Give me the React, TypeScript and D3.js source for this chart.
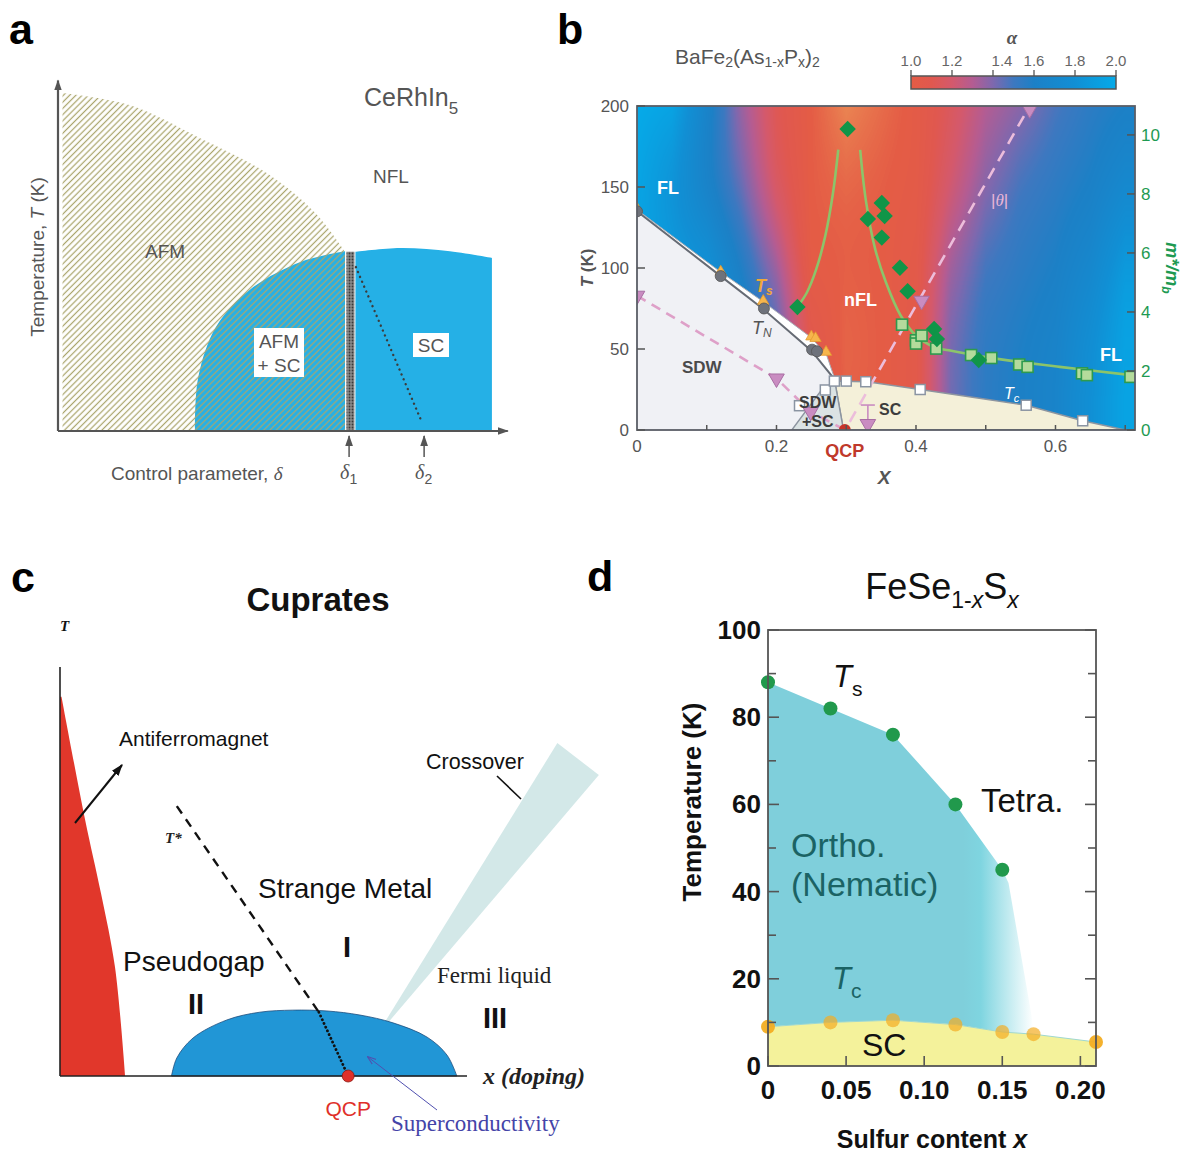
import React, { useMemo } from "react";
import * as d3 from "d3";

const SANS = "'Liberation Sans', Arial, Helvetica, sans-serif";
const SERIF = "'Liberation Serif', 'Times New Roman', serif";

// ================= Panel a : CeRhIn5 (schematic units 0..10) =================
const aAfmTop = [[0.1, 9.55], [1.6, 9.2], [3.1, 8.3], [4.6, 7.3], [5.7, 6.15], [6.35, 5.06]];
const aCoexDome = [[3.03, 0], [3.1, 1.5], [3.5, 2.95], [4.25, 4.0], [5.35, 4.77], [6.35, 5.08]];
const aScTop = [[6.57, 5.06], [7.57, 5.17], [8.67, 5.08], [9.6, 4.89]];
const aCrossover = [[6.59, 4.63], [8.05, 0.25]];
const aFirstOrder = [6.37, 6.57, 5.08];
const aDeltaTicks = [{ sub: "1", x: 6.44 }, { sub: "2", x: 8.1 }];

// ================= Panel b : BaFe2(As1-xPx)2 =================
const bX_MAX = 0.714;
const bAlphaGridX = [0, 0.05, 0.1, 0.15, 0.2, 0.25, 0.3, 0.35, 0.4, 0.45, 0.5, 0.55, 0.6, 0.65, 0.7];
// rows: T = 0, 50, 100, 150, 200
const bAlphaRows = [
  [1.9, 1.9, 1.85, 1.7, 1.5, 1.1, 1.0, 1.0, 1.05, 1.42, 1.55, 1.6, 1.65, 1.8, 1.95],
  [1.9, 1.9, 1.85, 1.7, 1.5, 1.1, 0.97, 1.0, 1.05, 1.42, 1.55, 1.6, 1.65, 1.8, 1.95],
  [1.95, 1.9, 1.85, 1.6, 1.35, 1.0, 1.0, 1.0, 1.05, 1.35, 1.5, 1.55, 1.6, 1.7, 1.9],
  [1.95, 1.8, 1.6, 1.42, 1.15, 1.0, 0.98, 1.0, 1.02, 1.2, 1.38, 1.5, 1.55, 1.6, 1.7],
  [2.0, 1.95, 1.65, 1.35, 1.12, 1.0, 0.9, 0.96, 1.02, 1.15, 1.3, 1.38, 1.48, 1.55, 1.6],
];
const bAlphaStops = [0.9, 1.0, 1.1, 1.2, 1.3, 1.4, 1.5, 1.6, 1.8, 2.0];
const bAlphaColors = ["#ea8452", "#e45c45", "#e0584f", "#d4596c", "#b45c92", "#7e68ae", "#3d78c0", "#1c80c6", "#118fd4", "#05aae8"];
const bAlphaTicks = [1.0, 1.2, 1.4, 1.6, 1.8, 2.0];

const bTN = [[0, 135], [0.12, 95], [0.182, 75], [0.251, 49.6], [0.258, 48.6]];
const bTs = [[0, 136], [0.12, 97], [0.181, 79], [0.25, 57], [0.256, 56], [0.271, 47.5]];
const bTc = [[0.233, 15], [0.27, 24.7], [0.283, 30.2], [0.3, 30.2], [0.328, 29.8], [0.406, 25], [0.558, 15.3], [0.639, 5.7]];
const bSdwLine = [[0, 135], [0.12, 95], [0.18, 75], [0.25, 49], [0.28, 33], [0.284, 29]];
const bTsLine = [[0, 136], [0.12, 97.5], [0.18, 79.5], [0.25, 57], [0.272, 46], [0.284, 31]];
const bSdwFoot = [0.296, 0];
const bScDome = [[0.284, 29], [0.29, 30.2], [0.33, 29.8], [0.406, 25], [0.558, 15.3], [0.639, 5.7], [0.7, 0]];
const bCoex = [[0.222, 0], [0.265, 25], [0.284, 29], [0.296, 0]];
const bPinkTri = [[0, 82.9], [0.2, 31.8], [0.249, 11.3], [0.331, 3.7], [0.408, 79.8], [0.563, 198]];
const bMomentLine = [[0, 82.9], [0.2, 31.8], [0.249, 11.3], [0.296, 0.5]];
const bThetaLine = [[0.305, 5], [0.563, 200]];
const bErrBar = [0.331, -2.5, 15.4];
const bQcp = [0.298, 0];
const bMassDiamonds = [[0.23, 4.17], [0.302, 10.2], [0.331, 7.15], [0.351, 7.69], [0.355, 7.25], [0.351, 6.52], [0.377, 5.5], [0.388, 4.7], [0.426, 3.42], [0.43, 3.08], [0.49, 2.37]];
const bMassSquares = [[0.38, 3.57], [0.4, 3.04], [0.4, 2.93], [0.408, 3.2], [0.429, 2.76], [0.479, 2.54], [0.508, 2.44], [0.548, 2.22], [0.56, 2.14], [0.638, 1.92], [0.645, 1.86], [0.7075, 1.8]];
const bFitLeft = [[0.23, 4.17], [0.2436, 4.66], [0.257, 5.45], [0.27, 6.58], [0.281, 8.03], [0.2886, 9.5]];
const bFitRight = [[0.32, 9.49], [0.328, 7.8], [0.3415, 6.13], [0.357, 5.0], [0.378, 3.88], [0.4, 3.2], [0.426, 2.81], [0.447, 2.7], [0.5, 2.47], [0.606, 2.14], [0.709, 1.86]];
const bTTicks = [0, 50, 100, 150, 200];
const bMTicks = [0, 2, 4, 6, 8, 10];
const bXTicks = [0, 0.2, 0.4, 0.6];
const bXMinor = [0.1, 0.2, 0.3, 0.4, 0.5, 0.6, 0.7];

// ================= Panel c : Cuprates (schematic units 0..100) =================
const cAfmEdge = [[0.37, 92.7], [6.14, 62.8], [10.07, 44.7], [13.5, 26.7], [16.0, 0]];
const cTstar = [[28.7, 66], [63.6, 15.6]];
const cTstarLow = [[63.6, 15.6], [70.8, 0]];
const cScDome = [[27.4, 0], [28.7, 4.4], [32.7, 9.3], [41.0, 13.7], [49.1, 15.6], [57.2, 16.1], [65.6, 15.9], [73.7, 14.9], [81.8, 13.0], [90.2, 9.5], [95.1, 5.1], [97.5, 0]];
const cCrossover = [[77.4, 9.3], [122.2, 81.4], [132.4, 73.6]];
const cQcp = [70.8, 0];

// ================= Panel d : FeSe1-xSx =================
const dTsX = [0, 0.04, 0.08, 0.12, 0.15];
const dTsT = [88, 82, 76, 60, 45];
const dTsTail = [[0.154, 42], [0.169, 11]];
const dTcX = [0, 0.04, 0.08, 0.12, 0.15, 0.17, 0.21];
const dTcT = [9, 10, 10.5, 9.5, 7.8, 7.3, 5.5];
const dYTicks = [0, 20, 40, 60, 80, 100];
const dYMinor = [10, 30, 50, 70, 90];
const dXTicks = [0, 0.05, 0.1, 0.15, 0.2];
const dXLabels = ["0", "0.05", "0.10", "0.15", "0.20"];

const lineOf = (x, y, curve?) => {
  const l = d3.line<number[]>().x((d) => x(d[0])).y((d) => y(d[1]));
  return curve ? l.curve(curve) : l;
};

function PanelA() {
  const x = d3.scaleLinear().domain([0, 10]).range([58, 510]);
  const y = d3.scaleLinear().domain([0, 10]).range([431, 77]);
  const cr = lineOf(x, y, d3.curveCatmullRom.alpha(0.5));
  const lastA = aAfmTop[aAfmTop.length - 1];
  const afm = cr(aAfmTop) + `L${x(lastA[0])},${y(0)}L${x(aAfmTop[0][0])},${y(0)}Z`;
  const lastC = aCoexDome[aCoexDome.length - 1];
  const coex = cr(aCoexDome) + `L${x(lastC[0])},${y(0)}Z`;
  const lastS = aScTop[aScTop.length - 1];
  const sc = `M${x(aScTop[0][0])},${y(0)}` + cr(aScTop).replace(/^M/, "L") + `L${x(lastS[0])},${y(0)}Z`;
  const g = "#555";
  const blue = "#25b0e6";
  return (
    <g>
      <defs>
        <pattern id="hatchA" patternUnits="userSpaceOnUse" width={4.4} height={4.4} patternTransform="rotate(45)">
          <line x1={2.2} y1={0} x2={2.2} y2={4.4} stroke="#aaa56c" strokeWidth={1.25} />
        </pattern>
        <pattern id="dotsA" patternUnits="userSpaceOnUse" width={3} height={3}>
          <rect width={3} height={3} fill="#8a8a8a" />
          <circle cx={1.5} cy={1.5} r={0.9} fill="#3a3a3a" />
        </pattern>
        <marker id="arrA" viewBox="0 0 10 10" refX={9} refY={5} markerUnits="userSpaceOnUse" markerWidth={11} markerHeight={11} orient="auto">
          <path d="M0,1.5 L10,5 L0,8.5 Z" fill={g} />
        </marker>
      </defs>
      <path d={coex} fill={blue} />
      <path d={afm} fill="url(#hatchA)" />
      <path d={sc} fill={blue} />
      <rect x={x(aFirstOrder[0])} y={y(aFirstOrder[2])} width={x(aFirstOrder[1]) - x(aFirstOrder[0])} height={y(0) - y(aFirstOrder[2])} fill="url(#dotsA)" stroke="#fff" strokeWidth={1} />
      <path d={lineOf(x, y)(aCrossover)} stroke="#3c3c3c" strokeWidth={2.4} strokeDasharray="0.1,5.2" strokeLinecap="round" fill="none" />
      <line x1={x(0)} y1={y(0)} x2={x(0)} y2={y(9.9)} stroke={g} strokeWidth={2.2} markerEnd="url(#arrA)" />
      <line x1={x(0)} y1={y(0)} x2={x(9.95)} y2={y(0)} stroke={g} strokeWidth={2.2} markerEnd="url(#arrA)" />
      {aDeltaTicks.map((d) => (
        <g key={d.sub}>
          <line x1={x(d.x)} y1={457} x2={x(d.x)} y2={436} stroke={g} strokeWidth={1.5} markerEnd="url(#arrA)" />
          <text x={x(d.x) - 9} y={479} fontFamily={SERIF} fontStyle="italic" fontSize={20} fill={g}>
            δ<tspan fontFamily={SANS} fontStyle="normal" fontSize={14} dy={5}>{d.sub}</tspan>
          </text>
        </g>
      ))}
      <text x={364} y={106} fontSize={25} fill={g}>
        CeRhIn<tspan fontSize={17} dy={8}>5</tspan>
      </text>
      <text x={373} y={183} fontSize={19} fill={g}>NFL</text>
      <text x={145} y={258} fontSize={19} fill={g}>AFM</text>
      <rect x={254} y={328} width={50} height={49} fill="#fff" />
      <text x={279} y={348} fontSize={19} fill={g} textAnchor="middle">AFM</text>
      <text x={279} y={372} fontSize={19} fill={g} textAnchor="middle">+ SC</text>
      <rect x={413} y={333} width={36} height={24} fill="#fff" />
      <text x={431} y={352} fontSize={19} fill={g} textAnchor="middle">SC</text>
      <text x={111} y={480} fontSize={19} fill={g}>
        Control parameter, <tspan fontFamily={SERIF} fontStyle="italic">δ</tspan>
      </text>
      <text transform="translate(44,257) rotate(-90)" fontSize={19} fill={g} textAnchor="middle">
        Temperature, <tspan fontStyle="italic">T</tspan> (K)
      </text>
    </g>
  );
}

function PanelB() {
  const x = d3.scaleLinear().domain([0, bX_MAX]).range([637, 1135]);
  const y = d3.scaleLinear().domain([0, 200]).range([430, 106]);
  const m = d3.scaleLinear().domain([0, 10.98]).range([430, 106]);
  const colorA = d3.scaleLinear<string>().domain(bAlphaStops).range(bAlphaColors).interpolate(d3.interpolateRgb).clamp(true);
  const W = Math.round(x(bX_MAX) - x(0));
  const H = Math.round(y(0) - y(200));
  const heat = useMemo(() => {
    const cv = document.createElement("canvas");
    cv.width = W;
    cv.height = H;
    const ctx = cv.getContext("2d");
    if (!ctx) return "";
    const img = ctx.createImageData(W, H);
    const aLo = bAlphaStops[0], aHi = bAlphaStops[bAlphaStops.length - 1];
    const lut = d3.range(256).map((k) => d3.rgb(colorA(aLo + (k / 255) * (aHi - aLo))));
    const rowFns = bAlphaRows.map((r) => d3.scaleLinear().domain(bAlphaGridX).range(r).clamp(true));
    for (let i = 0; i < W; i++) {
      const xv = x.invert(x(0) + i + 0.5);
      const colFn = d3.interpolateBasis(rowFns.map((f) => f(xv)));
      for (let j = 0; j < H; j++) {
        const Tv = y.invert(y(200) + j + 0.5);
        const a = colFn(Tv / 200);
        const k = Math.max(0, Math.min(255, Math.round(((a - aLo) / (aHi - aLo)) * 255)));
        const c = lut[k];
        const p = (j * W + i) * 4;
        img.data[p] = c.r;
        img.data[p + 1] = c.g;
        img.data[p + 2] = c.b;
        img.data[p + 3] = 255;
      }
    }
    ctx.putImageData(img, 0, 0);
    return cv.toDataURL();
  }, []);
  const L = lineOf(x, y);
  const LM = lineOf(x, m, d3.curveCatmullRom.alpha(0.5));
  const sdwRegion = L([[0, 0], ...bSdwLine, bSdwFoot]) + "Z";
  const band = L([...bTsLine, ...bSdwLine.slice().reverse()]) + "Z";
  const scRegion = L([[bSdwFoot[0], 0], ...bScDome]) + "Z";
  const coexRegion = L(bCoex) + "Z";
  const tri = d3.symbol().type(d3.symbolTriangle);
  const sq = d3.symbol().type(d3.symbolSquare);
  const cb = d3.scaleLinear().domain([1, 2]).range([911, 1116]);
  const gray = "#555";
  const green = "#1e9a52";
  return (
    <g>
      <defs>
        <linearGradient id="cbar" x1="0" x2="1" y1="0" y2="0">
          {d3.range(0, 1.0001, 0.05).map((t) => (
            <stop key={t} offset={t} stopColor={colorA(1 + t)} />
          ))}
        </linearGradient>
        <clipPath id="clipB">
          <rect x={x(0)} y={y(200)} width={W} height={H} />
        </clipPath>
      </defs>
      <image href={heat} x={x(0)} y={y(200)} width={W} height={H} preserveAspectRatio="none" />
      <g clipPath="url(#clipB)">
        <path d={sdwRegion} fill="#f0f1f5" />
        <path d={scRegion} fill="#f4f0d9" stroke="#8d95a0" strokeWidth={1.6} />
        <path d={coexRegion} fill="#dbe3e4" stroke="#8d95a0" strokeWidth={1.4} />
        <path d={band} fill="#fff" />
        <path d={L(bTsLine)} fill="none" stroke="#a9aeb6" strokeWidth={1} />
        <path d={L(bSdwLine)} fill="none" stroke="#666b74" strokeWidth={2} />
        <path d={L(bMomentLine)} fill="none" stroke="#dea0c8" strokeWidth={2.6} strokeDasharray="10,7" />
        <path d={L(bThetaLine)} fill="none" stroke="#ecbddb" strokeWidth={2.6} strokeDasharray="12,8" />
        <g stroke="#c98cc1" strokeWidth={1.6}>
          <line x1={x(bErrBar[0])} x2={x(bErrBar[0])} y1={y(bErrBar[1])} y2={y(bErrBar[2])} />
          <line x1={x(bErrBar[0]) - 7} x2={x(bErrBar[0]) + 7} y1={y(bErrBar[1])} y2={y(bErrBar[1])} />
          <line x1={x(bErrBar[0]) - 7} x2={x(bErrBar[0]) + 7} y1={y(bErrBar[2])} y2={y(bErrBar[2])} />
        </g>
        {bTs.map((d, i) => (
          <path key={"ts" + i} d={tri.size(55)()} transform={`translate(${x(d[0])},${y(d[1]) - 1})`} fill="#f6b64c" stroke="#e39a2e" strokeWidth={0.8} />
        ))}
        {bTN.map((d, i) => (
          <circle key={"tn" + i} cx={x(d[0])} cy={y(d[1])} r={5.5} fill="#6e727b" stroke="#555" strokeWidth={0.8} />
        ))}
        {bTc.map((d, i) => (
          <rect key={"tc" + i} x={x(d[0]) - 5} y={y(d[1]) - 5} width={10} height={10} fill="#fff" stroke="#8a94a2" strokeWidth={1.5} />
        ))}
        {bPinkTri.map((d, i) => (
          <path key={"pt" + i} d={tri.size(105)()} transform={`translate(${x(d[0])},${y(d[1])}) rotate(180)`} fill="#c98cc1" stroke="#a86ea3" strokeWidth={1} />
        ))}
        <circle cx={x(bQcp[0])} cy={y(bQcp[1])} r={6} fill="#c8342a" />
        <path d={LM(bFitLeft)} fill="none" stroke="#8cc46a" strokeWidth={2.6} />
        <path d={LM(bFitRight)} fill="none" stroke="#8cc46a" strokeWidth={2.6} />
        {bMassSquares.map((d, i) => (
          <rect key={"ms" + i} x={x(d[0]) - 5.5} y={m(d[1]) - 5.5} width={11} height={11} fill="#b4db9c" stroke="#2d9a4e" strokeWidth={1.6} />
        ))}
        {bMassDiamonds.map((d, i) => (
          <path key={"md" + i} d={sq.size(135)()} transform={`translate(${x(d[0])},${m(d[1])}) rotate(45)`} fill="#109548" />
        ))}
      </g>
      <rect x={x(0)} y={y(200)} width={W} height={H} fill="none" stroke="#5a5e66" strokeWidth={1.8} />
      {bTTicks.map((t) => (
        <g key={"yt" + t}>
          <line x1={x(0)} x2={x(0) + 8} y1={y(t)} y2={y(t)} stroke={gray} strokeWidth={1.5} />
          <text x={629} y={y(t) + 6} fontSize={17} fill={gray} textAnchor="end">{t}</text>
        </g>
      ))}
      {bMTicks.map((t) => (
        <g key={"mt" + t}>
          <line x1={x(bX_MAX) - 8} x2={x(bX_MAX)} y1={m(t)} y2={m(t)} stroke={gray} strokeWidth={1.5} />
          <text x={1141} y={m(t) + 6} fontSize={17} fill={green}>{t}</text>
        </g>
      ))}
      {bXMinor.map((t) => (
        <line key={"xm" + t} x1={x(t)} x2={x(t)} y1={y(0)} y2={y(0) - 5} stroke={gray} strokeWidth={1.5} />
      ))}
      {bXTicks.map((t) => (
        <text key={"xt" + t} x={x(t)} y={452} fontSize={17} fill={gray} textAnchor="middle">{t}</text>
      ))}
      <text x={657} y={194} fontSize={18} fontWeight={700} fill="#fff">FL</text>
      <text x={1100} y={361} fontSize={18} fontWeight={700} fill="#fff">FL</text>
      <text x={844} y={306} fontSize={18} fontWeight={700} fill="#fff">nFL</text>
      <text x={682} y={373} fontSize={17} fontWeight={700} fill="#4a4a4a">SDW</text>
      <text x={799} y={408} fontSize={16} fontWeight={700} fill="#3c3c3c">SDW</text>
      <text x={802} y={427} fontSize={16} fontWeight={700} fill="#3c3c3c">+SC</text>
      <text x={879} y={415} fontSize={16} fontWeight={700} fill="#3c3c3c">SC</text>
      <text x={x(bQcp[0])} y={457} fontSize={18} fontWeight={700} fill="#c0392b" textAnchor="middle">QCP</text>
      <text x={755} y={292} fontSize={18} fontWeight={700} fontStyle="italic" fill="#f0a83a">
        T<tspan fontSize={12} dy={3}>s</tspan>
      </text>
      <text x={752} y={334} fontSize={18} fontStyle="italic" fill="#555">
        T<tspan fontSize={12} dy={3}>N</tspan>
      </text>
      <text x={1004} y={399} fontSize={16} fontStyle="italic" fill="#fff">
        T<tspan fontSize={11} dy={3}>c</tspan>
      </text>
      <text x={991} y={206} fontSize={17} fill="#eab6d6">|<tspan fontFamily={SERIF} fontStyle="italic">θ</tspan>|</text>
      <text x={884} y={484} fontSize={19} fontWeight={700} fontStyle="italic" fill={gray} textAnchor="middle">X</text>
      <text transform="translate(593,268) rotate(-90)" fontSize={17} fontWeight={700} fill={gray} textAnchor="middle">
        <tspan fontStyle="italic">T</tspan> (K)
      </text>
      <text transform="translate(1166,268) rotate(90)" fontSize={18} fontWeight={700} fontStyle="italic" fill={green} textAnchor="middle">
        m*/m<tspan fontSize={12} dy={4}>b</tspan>
      </text>
      <text x={675} y={64} fontSize={21} fill={gray}>
        BaFe<tspan fontSize={14} dy={3}>2</tspan>
        <tspan dy={-3}>(As</tspan>
        <tspan fontSize={14} dy={3}>1-x</tspan>
        <tspan dy={-3}>P</tspan>
        <tspan fontSize={14} dy={3}>x</tspan>
        <tspan dy={-3}>)</tspan>
        <tspan fontSize={14} dy={3}>2</tspan>
      </text>
      <rect x={cb(1)} y={76} width={cb(2) - cb(1)} height={13} fill="url(#cbar)" stroke="#555" strokeWidth={1.5} />
      {bAlphaTicks.map((t) => (
        <g key={"cb" + t}>
          <line x1={cb(t)} x2={cb(t)} y1={76} y2={70} stroke="#555" strokeWidth={1.3} />
          <text x={cb(t) + (t === 1.4 ? 9 : 0)} y={66} fontSize={15} fill="#666" textAnchor="middle">{t.toFixed(1)}</text>
        </g>
      ))}
      <text x={1012} y={44} fontSize={19} fontWeight={700} fontStyle="italic" fontFamily={SERIF} fill="#555" textAnchor="middle">α</text>
    </g>
  );
}

function PanelC() {
  const x = d3.scaleLinear().domain([0, 100]).range([60, 467]);
  const y = d3.scaleLinear().domain([0, 100]).range([1076, 667]);
  const cr = lineOf(x, y, d3.curveCatmullRom.alpha(0.5));
  const afm = `M${x(0)},${y(0)}L${x(0)},${y(cAfmEdge[0][1])}` + cr(cAfmEdge).replace(/^M/, "L") + "Z";
  const dome = cr(cScDome) + "Z";
  const L = lineOf(x, y);
  return (
    <g>
      <defs>
        <marker id="arrC" viewBox="0 0 10 10" refX={9} refY={5} markerUnits="userSpaceOnUse" markerWidth={12} markerHeight={12} orient="auto">
          <path d="M0,1.5 L10,5 L0,8.5 Z" fill="#111" />
        </marker>
        <marker id="arrCb" viewBox="0 0 10 10" refX={9} refY={5} markerUnits="userSpaceOnUse" markerWidth={9} markerHeight={9} orient="auto">
          <path d="M0,1.5 L10,5 L0,8.5" fill="none" stroke="#5050b0" strokeWidth={1.2} />
        </marker>
      </defs>
      <path d={L(cCrossover) + "Z"} fill="#d3e8e8" />
      <path d={afm} fill="#e1372b" />
      <path d={dome} fill="#2196d6" stroke="#1d4d7c" strokeWidth={0.8} />
      <line x1={x(0)} y1={y(100)} x2={x(0)} y2={y(0)} stroke="#222" strokeWidth={1.6} />
      <line x1={x(0)} y1={y(0)} x2={x(100)} y2={y(0)} stroke="#222" strokeWidth={1.6} />
      <path d={L(cTstar)} stroke="#111" strokeWidth={2.4} strokeDasharray="9,7" fill="none" />
      <path d={L(cTstarLow)} stroke="#111" strokeWidth={2.8} strokeDasharray="0.1,4" strokeLinecap="round" fill="none" />
      <circle cx={x(cQcp[0])} cy={y(cQcp[1])} r={6} fill="#e0302a" stroke="#8a1a14" strokeWidth={0.8} />
      <line x1={75} y1={823} x2={122} y2={765} stroke="#111" strokeWidth={2} markerEnd="url(#arrC)" />
      <line x1={497} y1={776} x2={521} y2={799} stroke="#111" strokeWidth={1.6} />
      <line x1={437} y1={1110} x2={368} y2={1057} stroke="#5050b0" strokeWidth={1} markerEnd="url(#arrCb)" />
      <text x={318} y={611} fontSize={33} fontWeight={700} textAnchor="middle" fill="#111">Cuprates</text>
      <text x={60} y={631} fontFamily={SERIF} fontStyle="italic" fontWeight={700} fontSize={15} fill="#111">T</text>
      <text x={119} y={746} fontSize={21} fill="#111">Antiferromagnet</text>
      <text x={426} y={769} fontSize={21.5} fill="#111">Crossover</text>
      <text x={165} y={843} fontFamily={SERIF} fontStyle="italic" fontWeight={700} fontSize={15} fill="#222">T*</text>
      <text x={258} y={898} fontSize={28} fill="#111">Strange Metal</text>
      <text x={123} y={971} fontSize={28} fill="#111">Pseudogap</text>
      <text x={347} y={957} fontSize={29} fontWeight={900} textAnchor="middle" fill="#111">I</text>
      <text x={196} y={1014} fontSize={29} fontWeight={900} textAnchor="middle" fill="#111">II</text>
      <text x={495} y={1028} fontSize={29} fontWeight={900} textAnchor="middle" fill="#111">III</text>
      <text x={437} y={983} fontFamily={SERIF} fontSize={23} fill="#222">Fermi liquid</text>
      <text x={483} y={1084} fontFamily={SERIF} fontStyle="italic" fontWeight={700} fontSize={24} fill="#222">x  (doping)</text>
      <text x={x(cQcp[0])} y={1116} fontSize={21} textAnchor="middle" fill="#e0302a">QCP</text>
      <text x={391} y={1131} fontFamily={SERIF} fontSize={23} fill="#4444a8">Superconductivity</text>
    </g>
  );
}

function PanelD() {
  const x = d3.scaleLinear().domain([0, 0.21]).range([768, 1096]);
  const y = d3.scaleLinear().domain([0, 100]).range([1066, 630]);
  const ts = dTsX.map((v, i) => [v, dTsT[i]]);
  const tc = dTcX.map((v, i) => [v, dTcT[i]]);
  const L = lineOf(x, y);
  const orthoPts = [...ts, ...dTsTail, ...tc.filter((d) => d[0] <= 0.17).reverse()];
  const scPts = [...tc, [0.21, 0], [0, 0]];
  const frame = "#555";
  const teal = "#1b6364";
  return (
    <g>
      <defs>
        <linearGradient id="orthoGrad" gradientUnits="userSpaceOnUse" x1={x(0.125)} x2={x(0.17)} y1={0} y2={0}>
          <stop offset={0} stopColor="#7fcfdb" />
          <stop offset={0.25} stopColor="#7fd5e0" />
          <stop offset={1} stopColor="#ffffff" />
        </linearGradient>
      </defs>
      <path d={L(orthoPts) + "Z"} fill="url(#orthoGrad)" />
      <path d={L(scPts) + "Z"} fill="#f4f29b" />
      <path d={L(tc)} fill="none" stroke="#9fd8d0" strokeWidth={1} />
      {ts.map((d, i) => (
        <circle key={"ts" + i} cx={x(d[0])} cy={y(d[1])} r={7} fill="#21994c" />
      ))}
      {tc.map((d, i) => (
        <circle key={"tc" + i} cx={x(d[0])} cy={y(d[1])} r={7} fill="#f3ad22" opacity={i === 0 || i === tc.length - 1 ? 0.95 : 0.7} />
      ))}
      <rect x={x(0)} y={y(100)} width={x(0.21) - x(0)} height={y(0) - y(100)} fill="none" stroke={frame} strokeWidth={1.8} />
      {[...dYTicks, ...dYMinor].map((t) => {
        const len = dYTicks.includes(t) ? 11 : 8;
        return (
          <g key={"yt" + t}>
            <line x1={x(0)} x2={x(0) + len} y1={y(t)} y2={y(t)} stroke={frame} strokeWidth={1.6} />
            <line x1={x(0.21) - len} x2={x(0.21)} y1={y(t)} y2={y(t)} stroke={frame} strokeWidth={1.6} />
          </g>
        );
      })}
      {dYTicks.map((t) => (
        <text key={"yl" + t} x={761} y={y(t) + 9} fontSize={26} fontWeight={700} textAnchor="end" fill="#111">{t}</text>
      ))}
      {dXTicks.map((t, i) => (
        <g key={"xt" + t}>
          <line x1={x(t)} x2={x(t)} y1={y(0)} y2={y(0) - 10} stroke={frame} strokeWidth={1.6} />
          <text x={x(t)} y={1099} fontSize={26} fontWeight={700} textAnchor="middle" fill="#111">{dXLabels[i]}</text>
        </g>
      ))}
      <text x={942} y={599} fontSize={36} textAnchor="middle" fill="#111">
        FeSe<tspan fontSize={23} dy={9}>1-<tspan fontStyle="italic">x</tspan></tspan>
        <tspan dy={-9}>S</tspan>
        <tspan fontSize={23} dy={9} fontStyle="italic">x</tspan>
      </text>
      <text x={833} y={687} fontSize={31} fontStyle="italic" fill="#111">
        T<tspan fontStyle="normal" fontSize={21} dy={9}>s</tspan>
      </text>
      <text x={981} y={812} fontSize={33} fill="#111">Tetra.</text>
      <text x={791} y={857} fontSize={34} fill={teal}>Ortho.</text>
      <text x={791} y={896} fontSize={34} fill={teal}>(Nematic)</text>
      <text x={832} y={989} fontSize={31} fontStyle="italic" fill={teal}>
        T<tspan fontStyle="normal" fontSize={21} dy={9}>c</tspan>
      </text>
      <text x={862} y={1056} fontSize={32} fill="#111">SC</text>
      <text transform="translate(701,802) rotate(-90)" fontSize={26} fontWeight={700} textAnchor="middle" fill="#111">Temperature (K)</text>
      <text x={932} y={1148} fontSize={25} fontWeight={700} textAnchor="middle" fill="#111">
        Sulfur content <tspan fontStyle="italic">x</tspan>
      </text>
    </g>
  );
}

export default function App() {
  return (
    <svg width={1192} height={1157} viewBox="0 0 1192 1157" style={{ position: "absolute", left: 0, top: 0, background: "#fff" }} fontFamily={SANS}>
      <rect width={1192} height={1157} fill="#fff" />
      <PanelA />
      <PanelB />
      <PanelC />
      <PanelD />
      <g fontSize={43} fontWeight={700} fill="#000">
        <text x={9} y={44}>a</text>
        <text x={557} y={44}>b</text>
        <text x={11} y={592}>c</text>
        <text x={587} y={591}>d</text>
      </g>
    </svg>
  );
}
